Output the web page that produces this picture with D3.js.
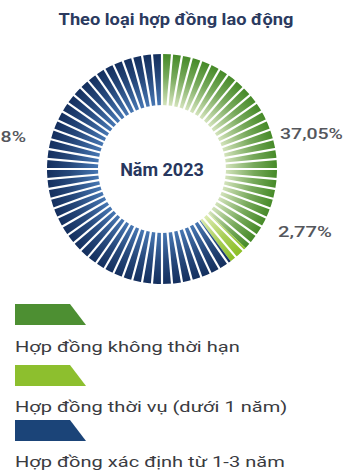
<!DOCTYPE html>
<html>
<head>
<meta charset="utf-8">
<script src="https://cdn.jsdelivr.net/npm/d3@7/dist/d3.min.js"></script>
<style>
  html, body { margin: 0; padding: 0; background: #ffffff; }
  svg { display: block; }
</style>
</head>
<body>
<svg id="chart" width="344" height="471"></svg>
<script>
// Labour structure by contract type, 2023
const title = "Theo loại hợp đồng lao động";
const centerLabel = "Năm 2023";
const categories = [
  "Hợp đồng không thời hạn",
  "Hợp đồng thời vụ (dưới 1 năm)",
  "Hợp đồng xác định từ 1-3 năm"
];
const shares = [37.05, 2.77, 60.18];
const shareLabels = ["37,05%", "2,77%", "60,18%"];
const outerColors = ["#468a28", "#8cbf26", "#142f5e"];
const innerColors = ["#d3e3bb", "#dcebb0", "#4676b2"];
const swatchColors = ["#4d8f32", "#8dbf2e", "#1b4478"];
const segmentCount = 72;

const svg = d3.select("#chart");
const cx = 162, cy = 169, rOuter = 115, rInner = 64;

// Place a text and stretch it horizontally to a given width
function placeText(sel, x, y, width, anchor) {
  sel.attr("text-anchor", anchor || "start");
  const w = sel.node().getComputedTextLength();
  const sx = width / w;
  sel.attr("transform", `translate(${x},${y}) scale(${sx},1)`);
  return sel;
}

// Title
const titleText = svg.append("text")
  .attr("font-family", "Roboto, 'Open Sans', sans-serif")
  .attr("font-weight", 700)
  .attr("font-size", 17)
  .attr("fill", "#2b3a5f")
  .text(title);
placeText(titleText, 176, 25, 235, "middle");

const ring = svg.append("g").attr("transform", `translate(${cx},${cy})`);

const defs = svg.append("defs");
categories.forEach((c, i) => {
  const g = defs.append("radialGradient")
    .attr("id", "grad" + i)
    .attr("gradientUnits", "userSpaceOnUse")
    .attr("cx", 0).attr("cy", 0).attr("r", rOuter);
  const f0 = rInner / rOuter;
  g.append("stop").attr("offset", f0).attr("stop-color", innerColors[i]);
  g.append("stop").attr("offset", f0 + (1 - f0) * 0.55)
    .attr("stop-color", d3.interpolateRgb(innerColors[i], outerColors[i])(0.65));
  g.append("stop").attr("offset", 1).attr("stop-color", outerColors[i]);
});

const pie = d3.pie().sort(null).value(d => d);
const arcs = pie(shares);
const arc = d3.arc().innerRadius(rInner).outerRadius(rOuter);

ring.selectAll("path.slice")
  .data(arcs)
  .join("path")
  .attr("class", "slice")
  .attr("d", arc)
  .attr("fill", (d, i) => `url(#grad${i})`);

// White radial separators cut the ring into equal segments
const angle = d3.scaleLinear().domain([0, segmentCount]).range([0, 2 * Math.PI]);
ring.selectAll("line.sep")
  .data(d3.range(segmentCount))
  .join("line")
  .attr("class", "sep")
  .attr("x1", k => (rInner - 1) * Math.sin(angle(k)))
  .attr("y1", k => -(rInner - 1) * Math.cos(angle(k)))
  .attr("x2", k => (rOuter + 1) * Math.sin(angle(k)))
  .attr("y2", k => -(rOuter + 1) * Math.cos(angle(k)))
  .attr("stroke", "#ffffff")
  .attr("stroke-width", 2.2);

ring.append("text")
  .attr("x", 0).attr("y", 7)
  .attr("text-anchor", "middle")
  .attr("font-family", "Roboto, sans-serif")
  .attr("font-weight", 700)
  .attr("font-size", 18)
  .attr("fill", "#27375e")
  .text(centerLabel);

// Percentage labels
const labelPos = [
  { x: 280, y: 139, w: 63, anchor: "start" },
  { x: 278, y: 237, w: 54, anchor: "start" },
  { x: 26, y: 142, w: 63, anchor: "end" }
];
svg.selectAll("text.pct")
  .data(shareLabels)
  .join("text")
  .attr("class", "pct")
  .attr("font-family", "Roboto, sans-serif")
  .attr("font-weight", 500)
  .attr("font-size", 15.5)
  .attr("fill", "#55575c")
  .text(d => d)
  .each(function (d, i) {
    const p = labelPos[i];
    placeText(d3.select(this), p.x, p.y, p.w, p.anchor);
  });

// Legend
const legendY = [304, 365, 420];
const textY = [352, 412, 467];
const legend = svg.append("g");
let legendScale = null;
categories.forEach((c, i) => {
  const y0 = legendY[i];
  legend.append("path")
    .attr("d", `M15,${y0}L70,${y0}L86,${y0 + 21}L15,${y0 + 21}Z`)
    .attr("fill", swatchColors[i]);
  const t = legend.append("text")
    .attr("font-family", "Roboto, sans-serif")
    .attr("font-size", 15.5)
    .attr("fill", "#3a3b3f")
    .text(c);
  const w = t.node().getComputedTextLength();
  if (legendScale === null) legendScale = 225 / w;
  t.attr("transform", `translate(15,${textY[i]}) scale(${legendScale},1)`);
});
</script>
</body>
</html>
